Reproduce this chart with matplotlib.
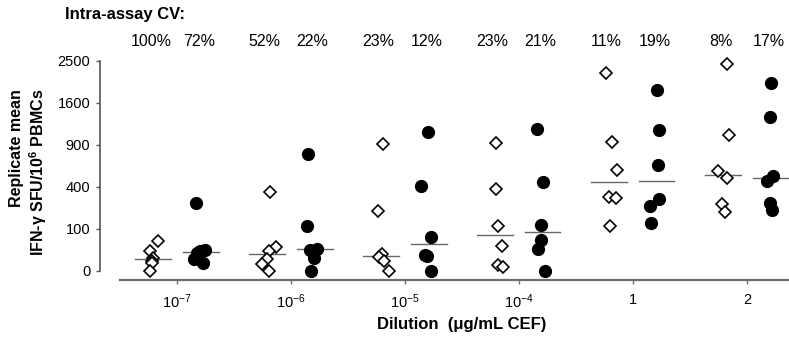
import numpy as np
import matplotlib
matplotlib.use('Agg')
import matplotlib.pyplot as plt
import matplotlib.transforms as mtransforms

plt.rcParams['font.family'] = ['Liberation Sans', 'DejaVu Sans']

# dilutions on the x axis
dilutions = ['$\\mathregular{10^{-7}}$', '$\\mathregular{10^{-6}}$', '$\\mathregular{10^{-5}}$',
             '$\\mathregular{10^{-4}}$', '1', '2']

# replicate means, open diamonds (left set) and filled circles (right set)
open_vals = [[52, 23, 9, 6, 4, 0],
             [351, 34, 23, 8, 3, 0],
             [919, 206, 16, 11, 6, 0],
             [934, 384, 115, 35, 2, 1],
             [2215, 948, 578, 313, 300, 115],
             [2422, 1053, 563, 487, 254, 195]]
filled_vals = [[265, 25, 23, 18, 8, 4],
               [772, 115, 28, 25, 9, 0],
               [1090, 413, 67, 15, 13, 0],
               [1148, 446, 118, 54, 28, 0],
               [1857, 1122, 633, 291, 240, 131],
               [1997, 1344, 512, 462, 260, 211]]

# intra-assay CV labels
cv_open = ['100%', '52%', '23%', '23%', '11%', '8%']
cv_filled = ['72%', '22%', '12%', '21%', '19%', '17%']

# horizontal scatter of the points around each set
open_jit = [[-0.17, -0.24, -0.21, -0.22, -0.22, -0.24],
            [-0.18, -0.13, -0.19, -0.21, -0.25, -0.19],
            [-0.19, -0.24, -0.20, -0.23, -0.18, -0.14],
            [-0.20, -0.20, -0.18, -0.15, -0.18, -0.14],
            [-0.24, -0.18, -0.14, -0.21, -0.15, -0.20],
            [-0.17, -0.16, -0.25, -0.17, -0.22, -0.19]]
filled_jit = [[0.17, 0.25, 0.20, 0.18, 0.15, 0.23],
              [0.15, 0.14, 0.23, 0.17, 0.20, 0.18],
              [0.20, 0.14, 0.23, 0.18, 0.19, 0.23],
              [0.16, 0.21, 0.19, 0.19, 0.17, 0.23],
              [0.21, 0.23, 0.22, 0.23, 0.15, 0.16],
              [0.21, 0.20, 0.23, 0.18, 0.20, 0.22]]

fig = plt.figure(figsize=(7.89, 3.41), dpi=100)
ax = fig.add_axes([120/789, 70/341, 669/789, 210/341])
ax.set_yscale('function', functions=(np.sqrt, np.square))

axis_col = '#6e6e6e'
for i in range(len(dilutions)):
    pos = i + 1
    xo = pos + np.array(open_jit[i])
    xf = pos + np.array(filled_jit[i])
    ax.plot(xo, open_vals[i], 'D', ms=6.6, mfc='white', mec='black', mew=1.2,
            ls='none', clip_on=False, zorder=3)
    ax.plot(xf, filled_vals[i], 'o', ms=8.5, color='black', ls='none',
            clip_on=False, zorder=3)
    # median lines
    ax.plot([pos - 0.21 - 0.155, pos - 0.21 + 0.155], [np.median(open_vals[i])]*2,
            color='#666666', lw=1, zorder=2)
    ax.plot([pos + 0.21 - 0.155, pos + 0.21 + 0.155], [np.median(filled_vals[i])]*2,
            color='#666666', lw=1, zorder=2)

ax.set_xlim(0.5, 6.37)
ax.set_ylim(0, 2500)
ax.set_yticks([0, 100, 400, 900, 1600, 2500])
ax.set_xticks(range(1, len(dilutions) + 1))
ax.set_xticklabels(dilutions)

for s in ['top', 'right']:
    ax.spines[s].set_visible(False)
ax.spines['left'].set_position(('outward', 14.4))
ax.spines['bottom'].set_position(('outward', 6.5))
ax.spines['left'].set_color('#555555')
ax.spines['bottom'].set_color(axis_col)
ax.spines['left'].set_linewidth(1.2)
ax.spines['bottom'].set_linewidth(1.6)
ax.tick_params(axis='y', length=3, width=1, color='#555555', labelsize=10.5, pad=4)
ax.tick_params(axis='x', length=3, width=1, color=axis_col, labelsize=10.5, pad=6)

# CV row
trans = mtransforms.blended_transform_factory(ax.transData, fig.transFigure)
for i in range(len(dilutions)):
    ax.text(i + 1 - 0.23, 1 - 42/341, cv_open[i], transform=trans, ha='center',
            va='center', fontsize=11.5)
    ax.text(i + 1 + 0.19, 1 - 42/341, cv_filled[i], transform=trans, ha='center',
            va='center', fontsize=11.5)
fig.text(65/789, 1 - 15/341, 'Intra-assay CV:', fontsize=12, fontweight='bold',
         ha='left', va='center')

fig.text(462/789, 1 - 325/341, 'Dilution  (\u03bcg/mL CEF)', fontsize=12,
         fontweight='bold', ha='center', va='center')
fig.text(29/789, 1 - 89/341,
         'Replicate mean\nIFN-\u03b3 SFU/10$\\mathregular{^6}$ PBMCs',
         rotation=90, fontsize=11.5, fontweight='bold', ha='center', va='top',
         multialignment='right', linespacing=1.15)

fig.savefig('out.png', dpi=100)
